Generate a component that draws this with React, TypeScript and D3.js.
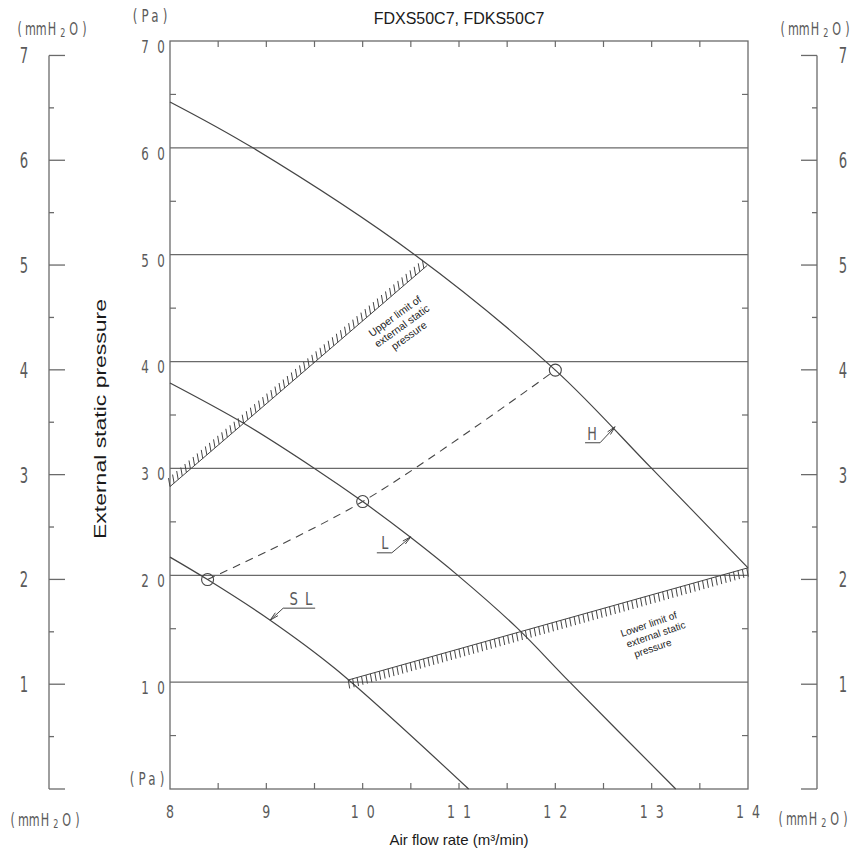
import React from 'react';
import * as d3 from 'd3';

const FLOW_TICKS = [8, 9, 10, 11, 12, 13, 14];
const PA_TICKS = [10, 20, 30, 40, 50, 60, 70];
const MM_TICKS = [1, 2, 3, 4, 5, 6, 7];

const H_FLOW = [8, 8.86, 10.54, 12, 13, 14];
const H_PA = [64.3, 60, 50, 39.2, 30, 20.7];
const L_FLOW = [8, 8.76, 9.5, 10, 10.49, 11, 11.6, 12.15, 13.25];
const L_PA = [38, 34.25, 30, 26.9, 23.6, 19.9, 15.1, 10, 0];
const SL_FLOW = [8, 8.39, 9.04, 9.71, 11.1];
const SL_PA = [21.7, 19.6, 15.8, 11.3, 0];
const OP_FLOW = [8.39, 10, 12];
const OP_PA = [19.6, 26.9, 39.2];
const UPPER_FLOW = [8, 10.67];
const UPPER_PA = [28.3, 49.0];
const LOWER_FLOW = [9.85, 14];
const LOWER_PA = [10.2, 20.7];

const CURVE_LABELS = ['H', 'L', 'S L'];
const LABEL_FLOW = [12.62, 10.5, 9.04];
const LABEL_PA = [33.9, 23.6, 15.8];

const TITLE = 'FDXS50C7, FDKS50C7';
const X_TITLE = 'Air flow rate (m³/min)';
const Y_TITLE = 'External static pressure';
const PA_PER_MM = 9.80665;

const W = 851;
const H = 853;
const X0 = 170, X1 = 748, Y0 = 789, Y1 = 41;
const x = d3.scaleLinear().domain([8, 14]).range([X0, X1]);
const y = d3.scaleLinear().domain([0, 70]).range([Y0, Y1]);

const LINE = '#454545';
const GRID = '#6a6a6a';
const CAD = '#5a5a5a';
const CAD_FONT = 'DejaVu Sans, sans-serif';
const SANS = 'Liberation Sans, Arial, sans-serif';

function zip(a: number[], b: number[]): [number, number][] {
  return a.map((v, i) => [v, b[i]]);
}

const curveGen = d3
  .line<[number, number]>()
  .x((d) => x(d[0]))
  .y((d) => y(d[1]))
  .curve(d3.curveCatmullRom.alpha(0.5));

function CadText({
  cx,
  cy,
  text,
  size,
  pitch,
  anchor = 'middle',
  sx = 0.7,
}: {
  cx: number;
  cy: number;
  text: string;
  size: number;
  pitch: number;
  anchor?: 'start' | 'middle' | 'end';
  sx?: number;
}) {
  const chars = text.split('');
  const n = chars.length;
  const total = (n - 1) * pitch;
  let startX = cx;
  if (anchor === 'middle') startX = cx - total / 2;
  if (anchor === 'end') startX = cx - total;
  return (
    <g fill={CAD} fontFamily={CAD_FONT} fontSize={size}>
      {chars.map((c, i) =>
        c === ' ' ? null : (
          <text
            key={i}
            transform={`translate(${startX + i * pitch},${cy}) scale(${sx},1)`}
            textAnchor="middle"
            dominantBaseline="central"
          >
            {c}
          </text>
        )
      )}
    </g>
  );
}

function MmUnit({ cx, cy }: { cx: number; cy: number }) {
  const chars = ['(', 'm', 'm', 'H', '2', 'O', ')'];
  const pitch = 10.8;
  const start = cx - 3 * pitch;
  return (
    <g fill={CAD} fontFamily={CAD_FONT}>
      {chars.map((c, i) => (
        <text
          key={i}
          transform={`translate(${start + i * pitch},${c === '2' ? cy + 3.5 : cy}) scale(0.62,1)`}
          textAnchor="middle"
          dominantBaseline="central"
          fontSize={c === '2' ? 13 : 18}
        >
          {c}
        </text>
      ))}
    </g>
  );
}

function hatch(fx: number[], fp: number[], spacing: number, dx: number, dy: number): string {
  const ax = x(fx[0]), ay = y(fp[0]), bx = x(fx[1]), by = y(fp[1]);
  const len = Math.hypot(bx - ax, by - ay);
  const n = Math.floor(len / spacing);
  let d = '';
  for (let i = 0; i <= n; i++) {
    const t = (i * spacing) / len;
    const px = ax + (bx - ax) * t;
    const py = ay + (by - ay) * t;
    d += `M${px.toFixed(2)},${py.toFixed(2)}L${(px + dx).toFixed(2)},${(py + dy).toFixed(2)}`;
  }
  return d;
}

function Leader({
  tipX,
  tipY,
  ex,
  ey,
  ux0,
  ux1,
}: {
  tipX: number;
  tipY: number;
  ex: number;
  ey: number;
  ux0: number;
  ux1: number;
}) {
  const ang = Math.atan2(tipY - ey, tipX - ex);
  const a1 = ang + Math.PI - 0.22;
  const a2 = ang + Math.PI + 0.22;
  const L = 9;
  return (
    <g stroke={LINE} strokeWidth={1} fill="none">
      <path d={`M${ux0},${ey}L${ux1},${ey}`} />
      <path d={`M${ex},${ey}L${tipX},${tipY}`} />
      <path
        d={`M${tipX + L * Math.cos(a1)},${tipY + L * Math.sin(a1)}L${tipX},${tipY}L${tipX + L * Math.cos(a2)},${tipY + L * Math.sin(a2)}`}
      />
    </g>
  );
}

export default function App() {
  const minorFlow = d3.range(8.5, 14, 0.5);
  const minorPa = d3.range(5, 70, 10);
  const mmAll = d3.range(0, 7.01, 0.5);

  const hPts = zip(H_FLOW, H_PA);
  const lPts = zip(L_FLOW, L_PA);
  const slPts = zip(SL_FLOW, SL_PA);
  const opPts = zip(OP_FLOW, OP_PA);

  const yMm = (mm: number) => y(mm * PA_PER_MM);

  const hTip = [x(LABEL_FLOW[0]), y(LABEL_PA[0])];
  const lTip = [x(LABEL_FLOW[1]), y(LABEL_PA[1])];
  const sTip = [x(LABEL_FLOW[2]), y(LABEL_PA[2])];

  return (
    <svg width={W} height={H} style={{ position: 'absolute', left: 0, top: 0, background: '#fff' }}>
      <rect x={0} y={0} width={W} height={H} fill="#fff" />
      <text x={(X0 + X1) / 2} y={24} textAnchor="middle" fontFamily={SANS} fontSize={16} fill="#1a1a1a">
        {TITLE}
      </text>

      <rect x={X0} y={Y1} width={X1 - X0} height={Y0 - Y1} fill="none" stroke={GRID} strokeWidth={1.3} />

      {PA_TICKS.filter((v) => v < 70).map((v) => (
        <line key={v} x1={X0} x2={X1} y1={y(v)} y2={y(v)} stroke={GRID} strokeWidth={1.3} />
      ))}
      {minorPa.map((v) => (
        <g key={v} stroke={GRID} strokeWidth={1.2}>
          <line x1={X0} x2={X0 + 6} y1={y(v)} y2={y(v)} />
          <line x1={X1 - 6} x2={X1} y1={y(v)} y2={y(v)} />
        </g>
      ))}
      {minorFlow.map((v) => (
        <g key={v} stroke={GRID} strokeWidth={1.2}>
          <line x1={x(v)} x2={x(v)} y1={Y1} y2={Y1 + 6} />
          <line x1={x(v)} x2={x(v)} y1={Y0 - 6} y2={Y0} />
        </g>
      ))}

      {PA_TICKS.map((v) => (
        <CadText key={v} cx={161} cy={y(v) + 5.5} text={String(v).split('').join(' ')} size={17} pitch={8} anchor="end" sx={0.7} />
      ))}
      <CadText cx={150} cy={16} text="(Pa)" size={18} pitch={10} sx={0.66} />
      <CadText cx={147} cy={779} text="(Pa)" size={18} pitch={10} sx={0.66} />

      {FLOW_TICKS.map((v) => (
        <CadText key={v} cx={x(v)} cy={812} text={String(v).split('').join(' ')} size={18.5} pitch={8} sx={0.68} />
      ))}

      <g stroke={GRID} strokeWidth={1.3}>
        <line x1={49} x2={49} y1={yMm(7)} y2={Y0} />
        <line x1={817} x2={817} y1={yMm(7)} y2={Y0} />
        {mmAll.map((v) => {
          const major = Math.abs(v - Math.round(v)) < 1e-6;
          return (
            <g key={v}>
              <line x1={49} x2={major ? 65 : 54} y1={yMm(v)} y2={yMm(v)} />
              <line x1={major ? 801 : 812} x2={817} y1={yMm(v)} y2={yMm(v)} />
            </g>
          );
        })}
      </g>
      {MM_TICKS.map((v) => (
        <g key={v}>
          <CadText cx={24} cy={yMm(v)} text={String(v)} size={22} pitch={0} sx={0.6} />
          <CadText cx={843} cy={yMm(v)} text={String(v)} size={22} pitch={0} sx={0.6} />
        </g>
      ))}
      <MmUnit cx={52} cy={29} />
      <MmUnit cx={815} cy={29} />
      <MmUnit cx={45} cy={820} />
      <MmUnit cx={813} cy={819} />

      <g stroke={LINE} strokeWidth={1} fill="none">
        <line x1={x(UPPER_FLOW[0])} y1={y(UPPER_PA[0])} x2={x(UPPER_FLOW[1])} y2={y(UPPER_PA[1])} />
        <path d={hatch(UPPER_FLOW, UPPER_PA, 5.4, -1.5, -8.5)} />
        <line x1={x(LOWER_FLOW[0])} y1={y(LOWER_PA[0])} x2={x(LOWER_FLOW[1])} y2={y(LOWER_PA[1])} />
        <path d={hatch(LOWER_FLOW, LOWER_PA, 4.6, 1.5, 8.5)} />
      </g>

      <g stroke={LINE} strokeWidth={1.2} fill="none">
        <path d={curveGen(hPts) || ''} />
        <path d={curveGen(lPts) || ''} />
        <path d={curveGen(slPts) || ''} />
        <path d={curveGen(opPts) || ''} strokeDasharray="8,6" strokeWidth={1.1} />
      </g>
      {OP_FLOW.map((f, i) => (
        <circle key={i} cx={x(f)} cy={y(OP_PA[i])} r={6} fill="none" stroke={LINE} strokeWidth={1.1} />
      ))}

      <Leader tipX={hTip[0]} tipY={hTip[1]} ex={hTip[0] - 15} ey={hTip[1] + 16} ux0={hTip[0] - 30} ux1={hTip[0] - 15} />
      <CadText cx={hTip[0] - 23} cy={hTip[1] + 8} text={CURVE_LABELS[0]} size={17} pitch={0} sx={0.75} />
      <Leader tipX={lTip[0]} tipY={lTip[1]} ex={lTip[0] - 19} ey={lTip[1] + 16} ux0={lTip[0] - 34} ux1={lTip[0] - 19} />
      <CadText cx={lTip[0] - 26} cy={lTip[1] + 7} text={CURVE_LABELS[1]} size={17} pitch={0} sx={0.75} />
      <Leader tipX={sTip[0]} tipY={sTip[1]} ex={sTip[0] + 13} ey={sTip[1] - 12} ux0={sTip[0] + 13} ux1={sTip[0] + 45} />
      <CadText cx={sTip[0] + 31} cy={sTip[1] - 21} text={CURVE_LABELS[2]} size={17} pitch={7.5} sx={0.78} />

      <g transform="translate(402,326) rotate(-36)" fontFamily={SANS} fontSize={10.5} fill="#222" textAnchor="middle">
        <text x={0} y={-8.5}>Upper limit of</text>
        <text x={0} y={3.5}>external static</text>
        <text x={0} y={15.5}>pressure</text>
      </g>
      <g transform="translate(622,637) rotate(-19)" fontFamily={SANS} fontSize={10} fill="#222" textAnchor="start">
        <text x={0} y={0}>Lower limit of</text>
        <text x={2} y={12}>external static</text>
        <text x={6} y={24}>pressure</text>
      </g>

      <text x={(X0 + X1) / 2} y={845} textAnchor="middle" fontFamily={SANS} fontSize={15} fill="#1a1a1a">
        {X_TITLE}
      </text>
      <text
        transform={`translate(106,419) rotate(-90)`}
        textAnchor="middle"
        fontFamily={SANS}
        fontSize={16}
        fill="#1a1a1a"
        textLength={240}
        lengthAdjust="spacingAndGlyphs"
      >
        {Y_TITLE}
      </text>
    </svg>
  );
}
